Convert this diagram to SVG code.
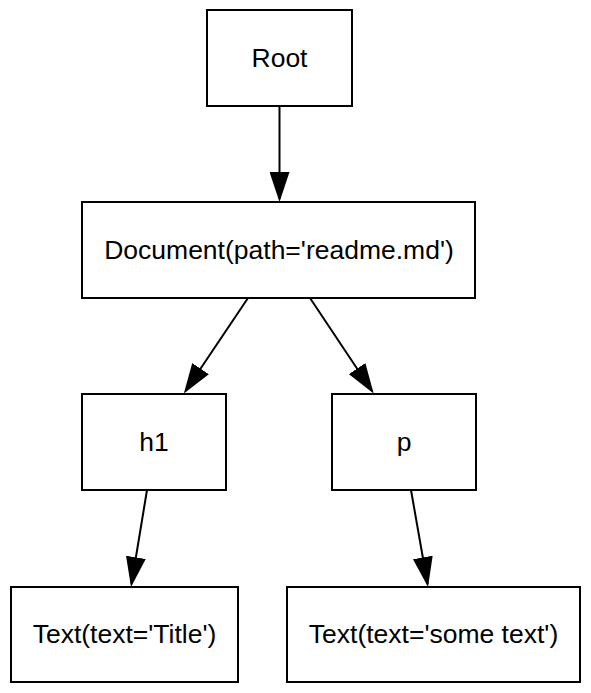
<svg xmlns="http://www.w3.org/2000/svg" width="591" height="693" viewBox="0 0 591 693">
<defs>
<style>
.box{fill:#fff;stroke:#000;stroke-width:2}
.lbl{font-family:"Liberation Sans",Arial,sans-serif;font-size:26.5px;fill:#000;text-anchor:middle}
.edge{stroke:#000;stroke-width:2;fill:none}
</style>
<marker id="arr" markerUnits="userSpaceOnUse" markerWidth="30" markerHeight="20" refX="27" refY="10" orient="auto" viewBox="0 0 30 20">
<path d="M0,0 L30,10 L0,20 z" fill="#000"/>
</marker>
</defs>
<rect width="591" height="693" fill="#fff"/>
<g id="connectors">
<line class="edge" x1="279.5" y1="106" x2="279.5" y2="199" marker-end="url(#arr)"/>
<line class="edge" x1="248" y1="298" x2="185.5" y2="391" marker-end="url(#arr)"/>
<line class="edge" x1="310" y1="298" x2="372" y2="391" marker-end="url(#arr)"/>
<line class="edge" x1="147" y1="490" x2="131.5" y2="584" marker-end="url(#arr)"/>
<line class="edge" x1="411" y1="490" x2="427.5" y2="584" marker-end="url(#arr)"/>
</g>
<g id="root"><rect class="box" x="207" y="10" width="145" height="96"/><text class="lbl" x="279.5" y="67">Root</text></g>
<g id="document"><rect class="box" x="82" y="202" width="393" height="96"/><text class="lbl" x="279" y="259">Document(path='readme.md')</text></g>
<g id="h1"><rect class="box" x="82" y="394" width="144" height="96"/><text class="lbl" x="154" y="451">h1</text></g>
<g id="p"><rect class="box" x="332" y="394" width="144" height="96"/><text class="lbl" x="404" y="451">p</text></g>
<g id="text-title"><rect class="box" x="11" y="587" width="227" height="95"/><text class="lbl" x="124.5" y="643">Text(text='Title')</text></g>
<g id="text-some"><rect class="box" x="287" y="587" width="293" height="95"/><text class="lbl" x="433.5" y="643">Text(text='some text')</text></g>
</svg>
